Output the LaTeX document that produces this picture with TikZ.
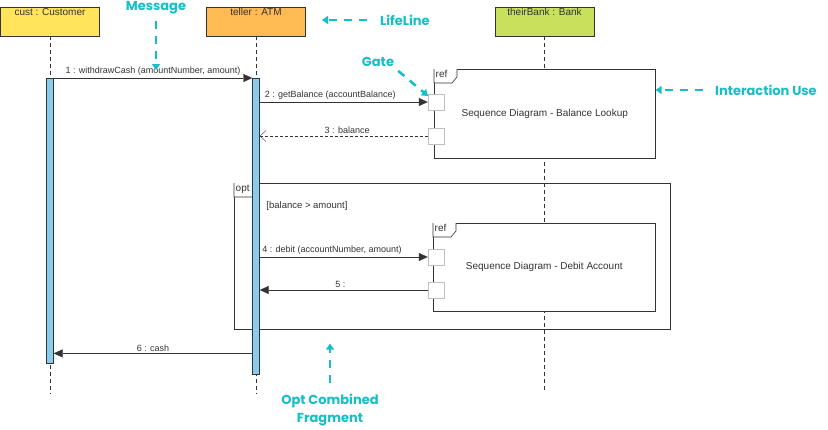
\documentclass[tikz,border=0pt]{standalone}
\usepackage{fontspec}
\setmainfont{Liberation Sans}
\newfontfamily\notefont{Poppins}
\usetikzlibrary{arrows.meta,positioning,calc}

\definecolor{custyellow}{RGB}{255,228,92}
\definecolor{atmorange}{RGB}{255,186,84}
\definecolor{bankgreen}{RGB}{200,224,92}
\definecolor{actblue}{RGB}{138,204,238}
\definecolor{notecyan}{RGB}{22,190,200}
\definecolor{ink}{RGB}{51,51,51}

\begin{document}
\begin{tikzpicture}[x=1pt,y=-1pt,
    head/.style={draw=ink,rectangle,minimum width=99pt,minimum height=29pt,inner sep=0pt},
    headtxt/.style={anchor=north,inner sep=1.5pt,text=ink,font=\fontsize{10}{12}\selectfont},
    act/.style={draw=ink,rectangle,fill=actblue,minimum width=7pt,inner sep=0pt,anchor=north},
    life/.style={draw=ink,thin,dash pattern=on 4pt off 3pt},
    msg/.style={draw=ink,thin,-{Triangle[length=9pt,width=8pt]}},
    reply/.style={draw=ink,thin,dash pattern=on 3pt off 2pt,-{Straight Barb[length=6pt,width=11pt]}},
    lbl/.style={text=ink,font=\fontsize{9}{10}\selectfont,inner sep=2pt},
    frame/.style={draw=ink,rectangle,anchor=north west,inner sep=0pt,line width=.6pt},
    gate/.style={draw=black!25,fill=white,minimum size=16pt,inner sep=0pt},
    note/.style={text=notecyan,font=\notefont\bfseries\fontsize{13}{18}\selectfont,inner sep=0pt},
    noteline/.style={notecyan,line width=2.6pt,dash pattern=on 8pt off 7pt,-{Triangle[length=6pt,width=8pt]}}]
  \useasboundingbox (0,0) rectangle (828,429);

  % lifeline heads
  \node[head,fill=custyellow,label={[headtxt]north:cust : Customer}] (cust) at (50,21.5) {};
  \node[head,fill=atmorange,label={[headtxt]north:teller : ATM}] (atm) at (256,21.5) {};
  \node[head,fill=bankgreen,label={[headtxt]north:theirBank : Bank}] (bank) at (544.5,21.5) {};

  \coordinate (custend) at (50,394);
  \coordinate (atmend) at (256,394);
  \coordinate (bankend) at (544.5,390);
  \draw[life] (cust) -- (custend);
  \draw[life] (atm) -- (atmend);
  \draw[life] (bank) -- (bankend);

  % fragments
  \node[frame,minimum width=436pt,minimum height=146pt] (opt) at (234,183) {};
  \node[frame,fill=white,minimum width=221pt,minimum height=89pt,text=ink,font=\fontsize{10}{12}\selectfont] (ref1) at (434,69) {Sequence Diagram - Balance Lookup};
  \node[frame,fill=white,minimum width=222pt,minimum height=88pt,text=ink,font=\fontsize{10}{12}\selectfont] (ref2) at (433,223) {Sequence Diagram - Debit Account};
  \foreach \f/\t in {ref1/ref,ref2/ref,opt/opt}{
    \draw[draw=ink,fill=white,line width=.6pt] (\f.north west) -- ++(0,14) -- ++(18,0) -- ++(5,-6) -- ++(0,-8);
    \node[anchor=north west,inner sep=1.5pt,text=ink,font=\fontsize{10}{12}\selectfont] at (\f.north west) {\t};
  }
  \node[lbl,font=\fontsize{9.5}{11}\selectfont] (guard) at (307,206) {[balance > amount]};

  % activations
  \node[act,minimum height=285pt] (a1) at (50,78) {};
  \node[act,minimum height=296pt] (a2) at (256,78) {};

  % gates
  \node[gate] (g1) at (436,102) {};
  \node[gate] (g2) at (436,136) {};
  \node[gate] (g3) at (436,257) {};
  \node[gate] (g4) at (436,290) {};

  % messages
  \draw[msg] (a1.north east) -- node[lbl,above] {1 : withdrawCash (amountNumber, amount)} (a2.north west);
  \draw[msg] (a2.east |- g1) -- node[lbl,above,pos=.42] {2 : getBalance (accountBalance)} (g1.west);
  \draw[reply] (g2.west) -- node[lbl,above,pos=.48] {3 : balance} (a2.east |- g2);
  \draw[msg] (a2.east |- g3) -- node[lbl,above,pos=.43] {4 : debit (accountNumber, amount)} (g3.west);
  \draw[msg] (g4.west) -- node[lbl,above,pos=.52] {5 :} (a2.east |- g4);
  \draw[msg] ([yshift=10pt]a2.west |- a1.south) -- node[lbl,above] {6 : cash} ([yshift=10pt]a1.south east);

  % notes
  \node[note] (msgnote) at (156,8) {Message};
  \coordinate (msgtip) at (156,70);
  \draw[noteline] ([yshift=-6pt]msgnote.south) -- (msgtip);

  \node[note,anchor=west] (lifenote) at (380,20) {LifeLine};
  \coordinate (lifetip) at (322,20);
  \draw[noteline] ([xshift=-13pt]lifenote.west) -- (lifetip);

  \node[note] (gatenote) at (378,62) {Gate};
  \coordinate (gatetip) at (428,96);
  \draw[noteline] ($(gatenote.south east)+(4,4)$) -- (gatetip);

  \node[note,anchor=west] (usenote) at (715,90) {Interaction Use};
  \draw[noteline] ([xshift=-12pt]usenote.west) -- (ref1.east |- usenote);

  \node[note,align=center] (optnote) at (330,410) {Opt Combined\\Fragment};
  \draw[noteline] ([yshift=11pt]optnote.north) -- ([yshift=-14pt]optnote.north |- opt.south);
\end{tikzpicture}
\end{document}
